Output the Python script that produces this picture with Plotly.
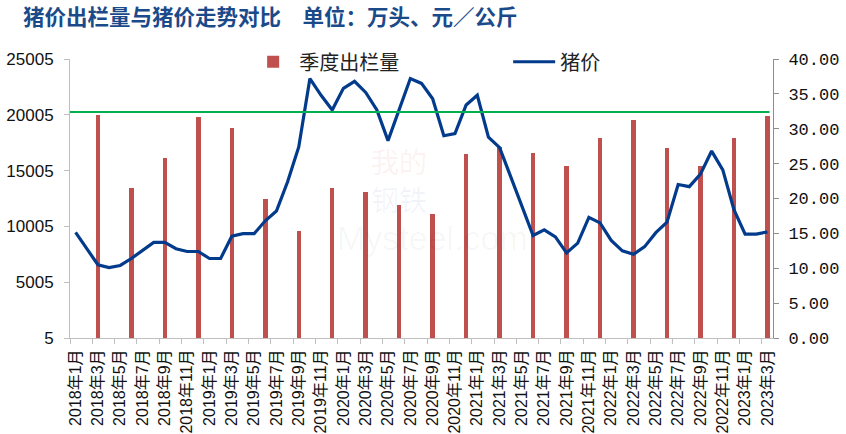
import plotly.graph_objects as go

# ---------------- data ----------------
years = [2018, 2019, 2020, 2021, 2022, 2023]
months = [f"{y}年{m}月" for y in years for m in range(1, 13)][:63]  # 2018年1月 .. 2023年3月

pig_price = [
    15.15, 12.9, 10.5, 10.1, 10.4, 11.4, 12.5, 13.7, 13.7, 12.8, 12.4, 12.4,
    11.4, 11.4, 14.6, 14.95, 14.95, 16.8, 18.2, 22.4, 27.4, 37.2, 34.8, 32.7,
    35.8, 36.8, 35.2, 32.7, 28.3, 32.6, 37.2, 36.5, 34.3, 29.0, 29.3, 33.4,
    34.8, 28.8, 27.3, 23.1, 18.8, 14.7, 15.5, 14.5, 12.2, 13.6, 17.3, 16.5,
    14.0, 12.5, 12.0, 13.1, 15.1, 16.6, 22.0, 21.7, 23.5, 26.8, 24.1, 18.4,
    14.9, 14.9, 15.2,
]

quarter_months = [f"{y}年{m}月" for y in years for m in (3, 6, 9, 12)][:21]
quarter_slaughter = [
    19990, 13470, 16130, 19800,
    18820, 12455, 9590, 13470,
    13080, 11920, 11110, 16490,
    17090, 16580, 15410, 17920,
    19530, 17030, 15410, 17920,
    19890,
]

ref_price = 32.4  # green reference level (right axis)

title_text = "猪价出栏量与猪价走势对比　单位：万头、元／公斤"
left_ticks = [5, 5005, 10005, 15005, 20005, 25005]

# ---------------- figure ----------------
CJK = "Noto Sans CJK SC"
fig = go.Figure()

fig.add_trace(go.Bar(
    x=quarter_months, y=quarter_slaughter, name="季度出栏量",
    marker=dict(color="#C0504D", line=dict(width=0)), width=0.4,
    yaxis="y",
))
fig.add_trace(go.Scatter(
    x=months, y=pig_price, name="猪价", mode="lines",
    line=dict(color="#033B8C", width=3.2), yaxis="y2",
))

fig.add_shape(type="line", xref="paper", x0=0, x1=0.995, yref="y2",
              y0=ref_price, y1=ref_price, line=dict(color="#00B050", width=2.2))

# title as an annotation placed relative to the plot area
fig.add_annotation(text="<b>" + title_text + "</b>", xref="paper", yref="paper",
                   x=-0.07, xanchor="left", y=1.156, yanchor="middle", showarrow=False,
                   font=dict(family=CJK, size=21.5, color="#1B4A8A"))

# faint watermark
fig.add_annotation(text="Mysteel.com", xref="paper", yref="paper", x=0.515, y=0.36,
                   showarrow=False, font=dict(family="Arial", size=34, color="rgba(0,0,0,0.035)"))
fig.add_annotation(text="我的", xref="paper", yref="paper", x=0.468, y=0.635,
                   showarrow=False, font=dict(family=CJK, size=28, color="rgba(220,60,60,0.07)"))
fig.add_annotation(text="钢铁", xref="paper", yref="paper", x=0.468, y=0.50,
                   showarrow=False, font=dict(family=CJK, size=28, color="rgba(60,60,160,0.06)"))

axis_col = "#BFBFBF"
fig.update_layout(
    width=846, height=434,
    margin=dict(l=70, r=73, t=59, b=96),
    paper_bgcolor="white", plot_bgcolor="white",
    bargap=0,
    showlegend=True,
    legend=dict(orientation="h", x=0.252, xanchor="left", y=1.06, yanchor="top",
                font=dict(family=CJK, size=20, color="#222"), entrywidth=204, itemwidth=42,
                bgcolor="rgba(0,0,0,0)", traceorder="normal"),
    xaxis=dict(
        type="category", categoryorder="array", categoryarray=months,
        range=[-0.5, len(months) - 0.5], automargin=False,
        tickmode="linear", tick0=0, dtick=2, tickson="boundaries",
        tickangle=-90, ticks="outside", ticklen=5, tickcolor=axis_col,
        ticklabelstandoff=4,
        showline=True, linecolor=axis_col, linewidth=1, showgrid=False,
        tickfont=dict(family="Arial, " + CJK, size=16, color="#111"),
    ),
    yaxis=dict(
        range=[5, 25005], tickmode="array", tickvals=left_ticks, automargin=False,
        ticktext=[str(v) for v in left_ticks], ticklabelstandoff=7,
        ticks="outside", ticklen=5, tickcolor=axis_col,
        showline=True, linecolor=axis_col, linewidth=1, showgrid=False, zeroline=False,
        tickfont=dict(family="Arial", size=17, color="#111"),
    ),
    yaxis2=dict(
        overlaying="y", side="right", range=[0, 40], tickmode="linear", tick0=0, dtick=5,
        tickformat=".2f", ticks="outside", ticklen=5, tickcolor="#8C8C8C", automargin=False,
        ticklabelstandoff=6,
        showline=True, linecolor="#8C8C8C", linewidth=1, showgrid=False, zeroline=False,
        tickfont=dict(family="Liberation Mono", size=17, color="#111"),
    ),
)

fig.write_html("out.html", config={"displayModeBar": False},
               post_script="document.body.style.margin='0';document.body.style.overflow='hidden';")
